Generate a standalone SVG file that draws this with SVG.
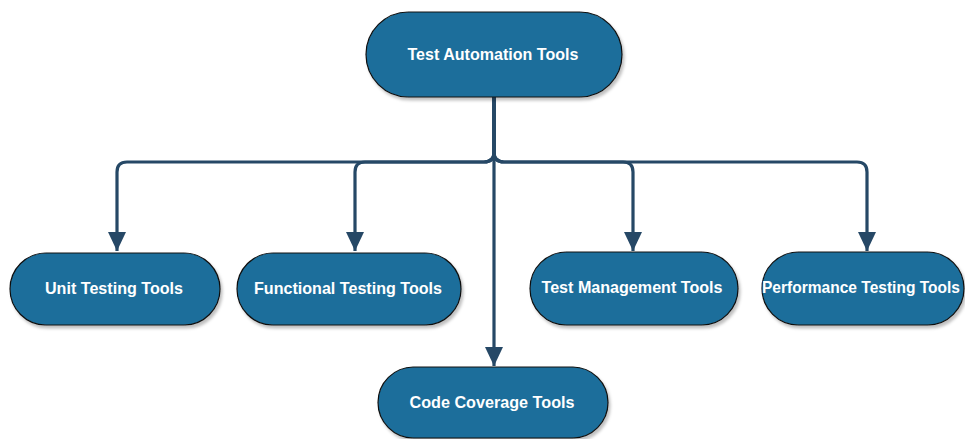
<svg xmlns="http://www.w3.org/2000/svg" width="965" height="439" viewBox="0 0 965 439">
<style>
.node{fill:#1b6e9b;stroke:#111;stroke-width:1.2;filter:url(#sh)}
.lbl{font-family:"Liberation Sans",Arial,sans-serif;font-weight:bold;font-size:17px;fill:#fff;text-anchor:middle}
.edge{fill:none;stroke:#264866;stroke-width:3.2;marker-end:url(#arr)}
</style>
<defs>
<filter id="sh" x="-10%" y="-10%" width="125%" height="140%">
<feDropShadow dx="2" dy="3" stdDeviation="1.5" flood-color="#000" flood-opacity="0.25"/>
</filter>
<marker id="arr" markerUnits="userSpaceOnUse" markerWidth="20" markerHeight="22" refX="19" refY="10" orient="auto" viewBox="0 0 20 20">
<path d="M0,1 L19,10 L0,19 Z" fill="#264866"/>
</marker>
</defs>
<g id="connectors">
<path class="edge" d="M494,97 V152 Q494,162 484,162 H127 Q117,162 117,172 V251"/>
<path class="edge" d="M494,97 V152 Q494,162 484,162 H365 Q355,162 355,172 V251"/>
<path class="edge" d="M494,97 V152 Q494,162 504,162 H623 Q633,162 633,172 V251"/>
<path class="edge" d="M494,97 V152 Q494,162 504,162 H857 Q867,162 867,172 V251"/>
<path class="edge" d="M494,97 V366"/>
</g>
<g id="n-root">
<rect class="node" x="366" y="12" width="256" height="85" rx="42.5"/>
<text class="lbl" x="493" y="60" textLength="171" lengthAdjust="spacingAndGlyphs">Test Automation Tools</text>
</g>
<g id="n-unit">
<rect class="node" x="10" y="253" width="210" height="72" rx="36"/>
<text class="lbl" x="114" y="294" textLength="138" lengthAdjust="spacingAndGlyphs">Unit Testing Tools</text>
</g>
<g id="n-functional">
<rect class="node" x="237" y="253" width="224" height="72" rx="36"/>
<text class="lbl" x="348" y="294" textLength="188" lengthAdjust="spacingAndGlyphs">Functional Testing Tools</text>
</g>
<g id="n-management">
<rect class="node" x="530" y="252" width="208" height="73" rx="36.5"/>
<text class="lbl" x="632" y="293" textLength="181" lengthAdjust="spacingAndGlyphs">Test Management Tools</text>
</g>
<g id="n-performance">
<rect class="node" x="762" y="252" width="202" height="73" rx="36.5"/>
<text class="lbl" x="861" y="293" textLength="198" lengthAdjust="spacingAndGlyphs">Performance Testing Tools</text>
</g>
<g id="n-coverage">
<rect class="node" x="378" y="367" width="230" height="71" rx="35.5"/>
<text class="lbl" x="492" y="408" textLength="165" lengthAdjust="spacingAndGlyphs">Code Coverage Tools</text>
</g>
</svg>
